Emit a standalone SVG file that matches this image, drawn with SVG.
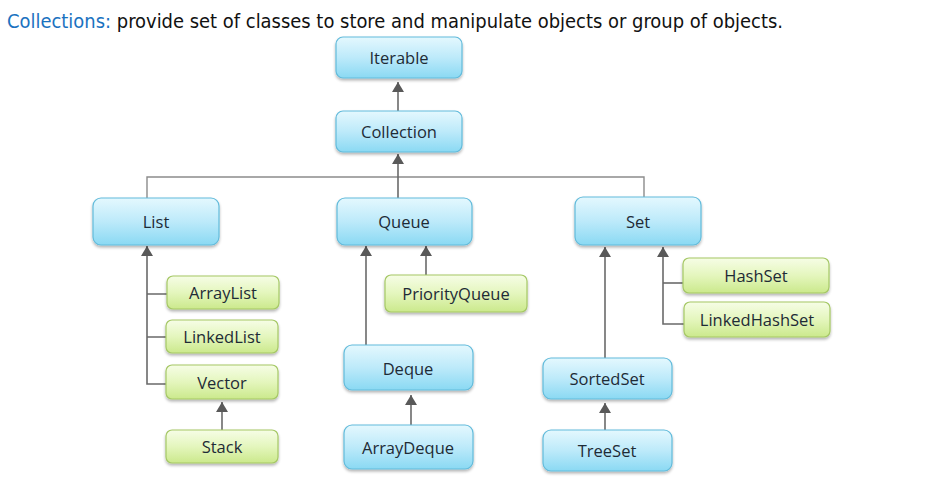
<svg xmlns="http://www.w3.org/2000/svg" width="942" height="477" viewBox="0 0 942 477">
<defs>
<linearGradient id="gb" x1="0" y1="0" x2="0" y2="1">
<stop offset="0" stop-color="#e4f8fe"/><stop offset="0.5" stop-color="#bdeafa"/><stop offset="1" stop-color="#8ad9f3"/>
</linearGradient>
<linearGradient id="gg" x1="0" y1="0" x2="0" y2="1">
<stop offset="0" stop-color="#f6fde6"/><stop offset="0.5" stop-color="#e4f6bd"/><stop offset="1" stop-color="#cbe98c"/>
</linearGradient>
<filter id="sh" x="-10%" y="-10%" width="120%" height="140%">
<feGaussianBlur in="SourceAlpha" stdDeviation="1.5"/><feOffset dx="0" dy="2"/>
<feComponentTransfer><feFuncA type="linear" slope="0.3"/></feComponentTransfer>
<feMerge><feMergeNode/><feMergeNode in="SourceGraphic"/></feMerge>
</filter>
<marker id="ar" viewBox="0 0 10 12" refX="10" refY="6" markerWidth="10" markerHeight="12" markerUnits="userSpaceOnUse" orient="auto-start-reverse">
<path d="M0,0 L10,6 L0,12 Z" fill="#595959"/>
</marker>
</defs>
<style>
.b{fill:url(#gb);stroke:#62bbdb;stroke-width:1.2;filter:url(#sh)}
.g{fill:url(#gg);stroke:#a5c865;stroke-width:1.2;filter:url(#sh)}
.t{font-family:"Open Sans","DejaVu Sans",sans-serif;font-size:16.5px;fill:#1e2b36;text-anchor:middle;dominant-baseline:central}
.c{fill:none;stroke:#6a6a6a;stroke-width:1.6}
.h{fill:none;stroke:#8c8c8c;stroke-width:1.4}
.a{marker-start:url(#ar)}
</style>
<rect width="942" height="477" fill="#ffffff"/>
<text x="7" y="28" font-family="'DejaVu Sans Condensed','DejaVu Sans',sans-serif" font-size="19" textLength="776" lengthAdjust="spacingAndGlyphs" fill="#111"><tspan fill="#1a72c0">Collections:</tspan> provide set of classes to store and manipulate objects or group of objects.</text>
<g id="connectors">
<path class="h" d="M147,198 V177 H644 V198"/>
<path class="c a" d="M398,82 V111"/>
<path class="c a" d="M398,154 V198"/>
<path class="c a" d="M147,246 V384 H167"/>
<path class="c" d="M147,294 H167 M147,337 H167"/>
<path class="c a" d="M222,402 V430"/>
<path class="c a" d="M366,246 V346"/>
<path class="c a" d="M426,246 V275"/>
<path class="c a" d="M411,395 V425"/>
<path class="c a" d="M605,247 V358"/>
<path class="c a" d="M663,247 V324 H684"/>
<path class="c" d="M663,283 H684"/>
<path class="c a" d="M605,403 V430"/>
</g>
<g id="Iterable"><rect class="b" x="336" y="37" width="126" height="41" rx="7"/><text class="t" x="399" y="57.5">Iterable</text></g>
<g id="Collection"><rect class="b" x="336" y="111" width="126" height="41" rx="7"/><text class="t" x="399" y="131.5">Collection</text></g>
<g id="List"><rect class="b" x="93" y="198" width="126" height="47" rx="8"/><text class="t" x="156" y="221.5">List</text></g>
<g id="Queue"><rect class="b" x="337" y="198" width="135" height="47" rx="8"/><text class="t" x="404" y="221.5">Queue</text></g>
<g id="Set"><rect class="b" x="575" y="197" width="126" height="48" rx="8"/><text class="t" x="638" y="221">Set</text></g>
<g id="ArrayList"><rect class="g" x="167" y="276" width="112" height="33" rx="6"/><text class="t" x="223" y="292.5">ArrayList</text></g>
<g id="LinkedList"><rect class="g" x="166" y="320" width="112" height="33" rx="6"/><text class="t" x="222" y="336.5">LinkedList</text></g>
<g id="Vector"><rect class="g" x="166" y="365" width="112" height="34" rx="6"/><text class="t" x="222" y="382">Vector</text></g>
<g id="Stack"><rect class="g" x="166" y="430" width="112" height="33" rx="6"/><text class="t" x="222" y="446.5">Stack</text></g>
<g id="PriorityQueue"><rect class="g" x="385" y="275" width="142" height="37" rx="6"/><text class="t" x="456" y="293.5">PriorityQueue</text></g>
<g id="Deque"><rect class="b" x="344" y="345" width="129" height="45" rx="8"/><text class="t" x="408" y="368">Deque</text></g>
<g id="ArrayDeque"><rect class="b" x="344" y="425" width="129" height="44" rx="8"/><text class="t" x="408" y="447">ArrayDeque</text></g>
<g id="HashSet"><rect class="g" x="683" y="258" width="146" height="35" rx="6"/><text class="t" x="756" y="275.5">HashSet</text></g>
<g id="LinkedHashSet"><rect class="g" x="684" y="302" width="146" height="35" rx="6"/><text class="t" x="757" y="319.5">LinkedHashSet</text></g>
<g id="SortedSet"><rect class="b" x="543" y="358" width="129" height="41" rx="8"/><text class="t" x="607" y="378.5">SortedSet</text></g>
<g id="TreeSet"><rect class="b" x="543" y="430" width="129" height="41" rx="8"/><text class="t" x="607" y="450.5">TreeSet</text></g>
</svg>
